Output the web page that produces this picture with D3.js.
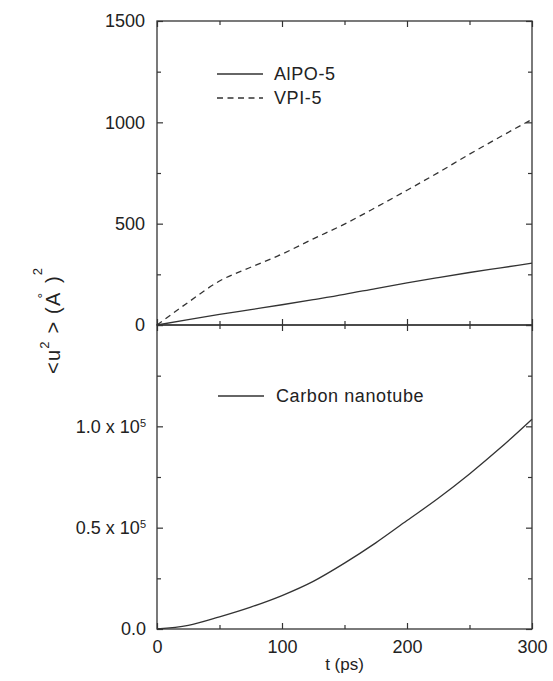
<!DOCTYPE html>
<html>
<head>
<meta charset="utf-8">
<script src="https://cdn.jsdelivr.net/npm/d3@7"></script>
<style>
  html, body { margin: 0; padding: 0; background: #fff; }
  svg { display: block; }
  text { font-family: "Liberation Sans", Arial, Helvetica, sans-serif; fill: #222; }
</style>
</head>
<body>
<svg id="chart" width="553" height="681"></svg>
<script>
// ---- data ----
const times = [0, 25, 50, 75, 100, 125, 150, 175, 200, 225, 250, 275, 300];
const alpo5 = [0, 27, 52, 76, 100, 125, 151, 180, 208, 234, 259, 282, 305];
const vpi5 = [0, 112, 217, 285, 350, 425, 498, 580, 665, 752, 843, 930, 1015];
const carbon = [0, 1800, 6000, 10800, 16500, 23500, 32500, 42500, 53500, 64500, 76500, 89500, 103500];

const xTicks = [0, 100, 200, 300];
const xMinor = [50, 150, 250];
const topTicks = [0, 500, 1000, 1500];
const topMinor = [250, 750, 1250];
const botTicks = [0, 50000, 100000, 150000];
const botTickLabels = ["0.0", "0.5 x 10|5", "1.0 x 10|5", ""];
const botMinor = [25000, 75000, 125000];
const legendTop = ["AlPO-5", "VPI-5"];
const legendBot = ["Carbon nanotube"];

// ---- layout ----
const L = 157, R = 532, T = 21, M = 325, B = 629;
const ink = "#333";
const svg = d3.select("#chart");

const x = d3.scaleLinear().domain([0, 300]).range([L, R]);
const yTop = d3.scaleLinear().domain([0, 1500]).range([M, T]);
const yBot = d3.scaleLinear().domain([0, 150000]).range([B, M]);

function styleAxis(g) {
  g.select(".domain").remove();
  g.selectAll("line").attr("stroke", ink).attr("stroke-width", 1.2);
  g.selectAll("text").attr("font-size", 18).attr("fill", "#222")
    .style("font-family", '"Liberation Sans", Arial, sans-serif');
}

// frames
[[T, M], [M, B]].forEach(([y0, y1]) => {
  svg.append("rect").attr("x", L).attr("y", y0).attr("width", R - L).attr("height", y1 - y0)
    .attr("fill", "none").attr("stroke", ink).attr("stroke-width", 1.3);
});

// x ticks for both panels (top & bottom edges of each), inward
function xTicksAt(yPos, dir, withLabels) {
  const maj = (dir === "up" ? d3.axisBottom(x) : d3.axisTop(x))
    .tickValues(xTicks).tickSize(-6).tickPadding(10)
    .tickFormat(withLabels ? d3.format("d") : () => "");
  const g = svg.append("g").attr("transform", `translate(0,${yPos})`).call(maj).call(styleAxis);
  const mn = (dir === "up" ? d3.axisBottom(x) : d3.axisTop(x))
    .tickValues(xMinor).tickSize(-4).tickFormat(() => "");
  svg.append("g").attr("transform", `translate(0,${yPos})`).call(mn).call(styleAxis);
  return g;
}
xTicksAt(T, "down", false);
xTicksAt(M, "up", false);
xTicksAt(M, "down", false);
const xb = xTicksAt(B, "up", true);
xb.selectAll("text").attr("dy", "0.71em").attr("y", 11);

// y axes
function yAxes(scale, majors, minors, fmt) {
  const gl = svg.append("g").attr("transform", `translate(${L},0)`)
    .call(d3.axisLeft(scale).tickValues(majors).tickSize(-6).tickPadding(11).tickFormat(fmt))
    .call(styleAxis);
  svg.append("g").attr("transform", `translate(${L},0)`)
    .call(d3.axisLeft(scale).tickValues(minors).tickSize(-4).tickFormat(() => "")).call(styleAxis);
  svg.append("g").attr("transform", `translate(${R},0)`)
    .call(d3.axisRight(scale).tickValues(majors).tickSize(-6).tickFormat(() => "")).call(styleAxis);
  svg.append("g").attr("transform", `translate(${R},0)`)
    .call(d3.axisRight(scale).tickValues(minors).tickSize(-4).tickFormat(() => "")).call(styleAxis);
  return gl;
}
const gTop = yAxes(yTop, topTicks, topMinor, d3.format("d"));
gTop.selectAll("text").attr("x", -12);

const gBot = yAxes(yBot, botTicks, botMinor, () => "");
gBot.selectAll(".tick text").each(function(d, i) {
  const lab = botTickLabels[i];
  const t = d3.select(this).text(null).attr("x", -11);
  if (!lab) return;
  const parts = lab.split("|");
  t.append("tspan").text(parts[0]);
  if (parts[1]) {
    t.append("tspan").attr("dy", "-0.55em").attr("font-size", 11).text(parts[1]);
  }
});

// lines
const line = (ys, scale) => d3.line()
  .x((d, i) => x(times[i]))
  .y(d => scale(d))
  .curve(d3.curveMonotoneX)(ys);

svg.append("path").attr("d", line(alpo5, yTop)).attr("fill", "none")
  .attr("stroke", ink).attr("stroke-width", 1.3);
svg.append("path").attr("d", line(vpi5, yTop)).attr("fill", "none")
  .attr("stroke", ink).attr("stroke-width", 1.3).attr("stroke-dasharray", "6,4.5");
svg.append("path").attr("d", line(carbon, yBot)).attr("fill", "none")
  .attr("stroke", ink).attr("stroke-width", 1.3);

// legends
const legTop = [{ y: 74, dash: null }, { y: 98, dash: "6,4.5" }];
legendTop.forEach((name, i) => {
  svg.append("line").attr("x1", 217).attr("x2", 263).attr("y1", legTop[i].y).attr("y2", legTop[i].y)
    .attr("stroke", ink).attr("stroke-width", 1.3).attr("stroke-dasharray", legTop[i].dash);
  svg.append("text").attr("x", 274).attr("y", legTop[i].y).attr("dy", "0.35em")
    .attr("font-size", 18).attr("letter-spacing", 0.6).text(name);
});
legendBot.forEach((name, i) => {
  svg.append("line").attr("x1", 218).attr("x2", 264).attr("y1", 396).attr("y2", 396)
    .attr("stroke", ink).attr("stroke-width", 1.3);
  svg.append("text").attr("x", 276).attr("y", 396).attr("dy", "0.35em")
    .attr("font-size", 18).attr("letter-spacing", 0.6).text(name);
});

// axis titles
svg.append("text").attr("x", x(150)).attr("y", 670).attr("text-anchor", "middle")
  .attr("font-size", 17).text("t (ps)");

const yl = svg.append("text").attr("transform", "translate(60,374) rotate(-90)")
  .attr("font-size", 20).attr("letter-spacing", 1.2);
yl.append("tspan").text("<u");
yl.append("tspan").attr("dy", -11).attr("font-size", 13).text("2");
yl.append("tspan").attr("dy", 11).text(" > (A");
yl.append("tspan").attr("dx", -7).attr("dy", -12).attr("font-size", 14).text("°");
yl.append("tspan").attr("dx", 2).attr("dy", 12).text(" )");
yl.append("tspan").attr("dy", -18).attr("font-size", 13).text("2");
</script>
</body>
</html>
